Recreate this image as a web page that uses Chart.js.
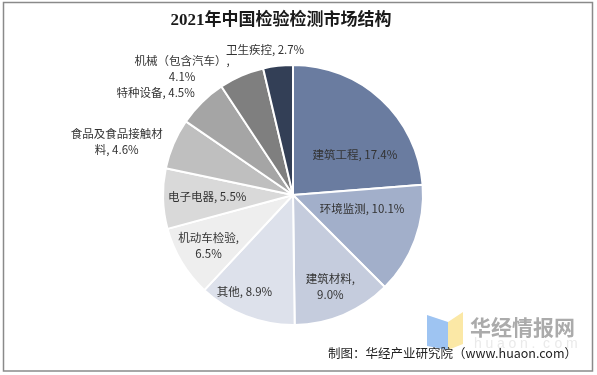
<!DOCTYPE html>
<html>
<head>
<meta charset="utf-8">
<script src="https://cdn.jsdelivr.net/npm/chart.js@4"></script>
<style>
  html, body { margin: 0; padding: 0; background: #fff; }
  #wrap { position: relative; width: 597px; height: 375px; }
</style>
</head>
<body>
<div id="wrap"><canvas id="pieChart" width="597" height="375"></canvas></div>
<script>
// données (%)
const categories = ["建筑工程", "环境监测", "建筑材料", "其他", "机动车检验",
    "电子电器", "食品及食品接触材料", "特种设备", "机械（包含汽车）", "卫生疾控"];
const values = [17.4, 10.1, 9.0, 8.9, 6.5, 5.5, 4.6, 4.5, 4.1, 2.7];
const colors = ["#6A7CA0", "#A2AFCA", "#C5CCDD", "#DDE1EB", "#EEEEEE",
    "#D9D9D9", "#BFBFBF", "#A5A5A5", "#7F7F7F", "#333F56"];

// étiquettes telles qu'affichées (retours à la ligne)
const labelLines = [
    ["建筑工程, 17.4%"],
    ["环境监测, 10.1%"],
    ["建筑材料,", "9.0%"],
    ["其他, 8.9%"],
    ["机动车检验,", "6.5%"],
    ["电子电器, 5.5%"],
    ["食品及食品接触材", "料, 4.6%"],
    ["特种设备, 4.5%"],
    ["机械（包含汽车）,", "4.1%"],
    ["卫生疾控, 2.7%"]
];
// placement : facteur de rayon + petit décalage
const labelPlace = [
    [0.6, 9, 17], [0.55, 2, -11], [0.72, 1, 5], [0.8, -11, 0], [0.75, -1, 0],
    [0.66, 0, -1], [1.4, -9, 18], [1.3, -19, 18], [1.3, -44, 29], [1.13, -11, 1]
];

const CJK = '"Noto Sans CJK SC", "Microsoft YaHei", sans-serif';

const decorPlugin = {
    id: "decor",
    afterDatasetsDraw(chart) {
        const ctx = chart.ctx;
        const arcs = chart.getDatasetMeta(0).data;
        ctx.save();
        ctx.fillStyle = "#333333";
        ctx.font = "11.5px " + CJK;
        ctx.textAlign = "center";
        ctx.textBaseline = "middle";
        arcs.forEach((arc, i) => {
            const p = arc.getProps(["x", "y", "startAngle", "endAngle", "outerRadius"], true);
            const mid = (p.startAngle + p.endAngle) / 2;
            const [f, dx, dy] = labelPlace[i];
            const r = p.outerRadius * f;
            const x = p.x + Math.cos(mid) * r + dx;
            const y = p.y + Math.sin(mid) * r + dy;
            const lines = labelLines[i];
            const lh = 16;
            lines.forEach((t, k) => {
                ctx.fillText(t, x, y + (k - (lines.length - 1) / 2) * lh);
            });
        });
        ctx.restore();
    },
    afterDraw(chart) {
        const ctx = chart.ctx;
        ctx.save();
        // cadre
        ctx.strokeStyle = "#8a8a8a";
        ctx.lineWidth = 1.5;
        ctx.strokeRect(3.5, 2.5, 589, 368.5);

        // titre
        ctx.fillStyle = "#1a1a1a";
        ctx.font = 'bold 17px "Liberation Serif", ' + CJK;
        ctx.textAlign = "center";
        ctx.textBaseline = "middle";
        ctx.fillText("2021年中国检验检测市场结构", 281, 21);

        // filigrane
        ctx.fillStyle = "#9EC4F2";
        ctx.beginPath();
        ctx.moveTo(427, 315); ctx.lineTo(448, 322); ctx.lineTo(448, 350); ctx.lineTo(427, 346);
        ctx.closePath(); ctx.fill();
        ctx.fillStyle = "#FBE8A6";
        ctx.beginPath();
        ctx.moveTo(448, 322); ctx.lineTo(463, 312); ctx.lineTo(463, 344); ctx.lineTo(448, 350);
        ctx.closePath(); ctx.fill();
        ctx.fillStyle = "#ABABAB";
        ctx.font = "bold 21px " + CJK;
        ctx.textAlign = "left";
        ctx.fillText("华经情报网", 470, 327);
        ctx.fillStyle = "#EAEAEA";
        ctx.font = "14px Arial, sans-serif";
        const wm = "huaon.com";
        for (let k = 0; k < wm.length; k++) {
            ctx.fillText(wm[k], 474 + k * 11.5, 344);
        }

        // source
        ctx.fillStyle = "#222222";
        ctx.font = '12.5px ' + CJK;
        ctx.textAlign = "right";
        ctx.fillText("制图：华经产业研究院（www.huaon.com）", 577, 353);
        ctx.restore();
    }
};

new Chart(document.getElementById("pieChart").getContext("2d"), {
    type: "pie",
    data: {
        labels: categories,
        datasets: [{
            data: values,
            backgroundColor: colors,
            borderColor: "#ffffff",
            borderWidth: 2
        }]
    },
    options: {
        responsive: false,
        animation: false,
        layout: { padding: { left: 162, right: 173, top: 64, bottom: 49 } },
        plugins: {
            legend: { display: false },
            tooltip: { enabled: false },
            title: { display: false }
        }
    },
    plugins: [decorPlugin]
});
</script>
</body>
</html>
